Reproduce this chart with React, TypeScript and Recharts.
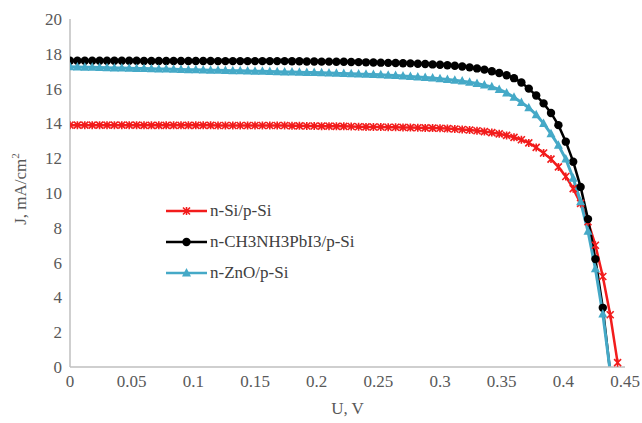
import { LineChart, Line, XAxis, YAxis, Legend } from 'recharts';

// voltage grid used by all three curves (V)
const uGrid = [
    0, 0.006, 0.012, 0.018, 0.024, 0.03, 0.036, 0.042, 0.048, 0.054,
    0.06, 0.066, 0.072, 0.078, 0.084, 0.09, 0.096, 0.102, 0.108, 0.114,
    0.12, 0.126, 0.132, 0.138, 0.144, 0.15, 0.156, 0.162, 0.168, 0.174,
    0.18, 0.186, 0.192, 0.198, 0.204, 0.21, 0.216, 0.222, 0.228, 0.234,
    0.24, 0.246, 0.252, 0.258, 0.264, 0.27, 0.276, 0.282, 0.288, 0.294,
    0.3, 0.306, 0.312, 0.318, 0.324, 0.33, 0.336, 0.342, 0.348, 0.354,
    0.36, 0.366, 0.372, 0.378, 0.384, 0.39, 0.396, 0.402, 0.408, 0.414,
    0.42, 0.426, 0.432,
];

const siTailU = [0.438, 0.444];
const pbTailU = [0.438];
const znTailU = [0.438];

// n-Si/p-Si, mA/cm2
const siJ = [
    13.9, 13.9, 13.9, 13.9, 13.9, 13.9, 13.9, 13.9, 13.9, 13.9,
    13.89, 13.89, 13.89, 13.89, 13.89, 13.89, 13.89, 13.89, 13.89, 13.89,
    13.88, 13.88, 13.88, 13.88, 13.88, 13.88, 13.88, 13.88, 13.88, 13.88,
    13.86, 13.86, 13.85, 13.85, 13.84, 13.84, 13.83, 13.83, 13.82, 13.81,
    13.8, 13.79, 13.79, 13.78, 13.78, 13.77, 13.76, 13.75, 13.74, 13.73,
    13.72, 13.7, 13.68, 13.65, 13.62, 13.58, 13.53, 13.47, 13.4, 13.31,
    13.2, 13.06, 12.88, 12.62, 12.3, 11.95, 11.5, 10.95, 10.25, 9.4,
    8.35, 7.0, 5.2, 3.0, 0.25,
];

// n-CH3NH3PbI3/p-Si
const pbJ = [
    17.6, 17.6, 17.6, 17.6, 17.6, 17.6, 17.6, 17.6, 17.6, 17.6,
    17.59, 17.59, 17.59, 17.59, 17.59, 17.59, 17.59, 17.59, 17.59, 17.59,
    17.58, 17.58, 17.58, 17.58, 17.58, 17.58, 17.58, 17.58, 17.58, 17.58,
    17.57, 17.57, 17.56, 17.56, 17.55, 17.55, 17.54, 17.54, 17.53, 17.52,
    17.51, 17.5, 17.49, 17.48, 17.47, 17.46, 17.45, 17.43, 17.41, 17.39,
    17.37, 17.34, 17.31, 17.27, 17.22, 17.16, 17.09, 17.0, 16.9, 16.77,
    16.6, 16.35, 16.0, 15.6, 15.15, 14.6, 13.9, 12.95, 11.8, 10.35,
    8.5, 6.2, 3.4, -0.3,
];

// n-ZnO/p-Si
const znJ = [
    17.25, 17.24, 17.23, 17.22, 17.21, 17.2, 17.19, 17.18, 17.17, 17.16,
    17.15, 17.14, 17.13, 17.12, 17.11, 17.1, 17.09, 17.08, 17.07, 17.06,
    17.05, 17.04, 17.03, 17.02, 17.01, 17.0, 16.99, 16.98, 16.97, 16.96,
    16.95, 16.94, 16.93, 16.92, 16.91, 16.9, 16.88, 16.87, 16.86, 16.84,
    16.83, 16.81, 16.79, 16.77, 16.75, 16.73, 16.7, 16.67, 16.64, 16.61,
    16.57, 16.53, 16.48, 16.43, 16.37, 16.3, 16.2, 16.1, 15.95, 15.75,
    15.5, 15.2, 14.9, 14.5, 14.0, 13.4, 12.75, 11.95, 10.85, 9.5,
    7.8, 5.65, 3.05, -0.25,
];

const xTicks = [0, 0.05, 0.1, 0.15, 0.2, 0.25, 0.3, 0.35, 0.4, 0.45];
const yTicks = [0, 2, 4, 6, 8, 10, 12, 14, 16, 18, 20];

const seriesNames = ['n-Si/p-Si', 'n-CH3NH3PbI3/p-Si', 'n-ZnO/p-Si'];

const RED = '#F21C1C';
const BLACK = '#000000';
const BLUE = '#45A9C7';
const FONT = "'Liberation Serif', 'Times New Roman', 'DejaVu Serif', serif";
const TEXT = '#595959';

const toRows = (u: number[], j: number[]) => u.map((v, i) => ({ u: v, j: j[i] }));

const siData = toRows([...uGrid, ...siTailU], siJ);
const pbData = toRows([...uGrid, ...pbTailU], pbJ);
const znData = toRows([...uGrid, ...znTailU], znJ);

const Marker = ({ kind, cx, cy, color }: { kind: number; cx: number; cy: number; color: string }) => {
    if (kind === 0) {
        return (
            <path
                d={`M${cx - 3.5},${cy - 3.5}L${cx + 3.5},${cy + 3.5}M${cx - 3.5},${cy + 3.5}L${cx + 3.5},${cy - 3.5}M${cx},${cy - 4}L${cx},${cy + 4}`}
                stroke={color}
                strokeWidth={1.6}
                fill="none"
            />
        );
    }
    if (kind === 1) {
        return <circle cx={cx} cy={cy} r={4.2} fill={color} />;
    }
    return <path d={`M${cx},${cy - 5}L${cx + 4.5},${cy + 3.5}L${cx - 4.5},${cy + 3.5}Z`} fill={color} />;
};

const dotFor = (kind: number, color: string) => (props: any) => {
    const { cx, cy, index, value } = props;
    const v = Array.isArray(value) ? value[1] : value;
    if (cx == null || cy == null || v < 0) return <g key={`e-${kind}-${index}`} />;
    return (
        <g key={`d-${kind}-${index}`}>
            <Marker kind={kind} cx={cx} cy={cy} color={color} />
        </g>
    );
};

const LegendBox = (props: any) => {
    // keep the series order (recharts sorts legend items by name)
    const items = [...(props.payload || [])].sort(
        (a: any, b: any) => seriesNames.indexOf(a.value) - seriesNames.indexOf(b.value)
    );
    return (
        <div style={{ fontFamily: FONT, fontSize: 17, color: '#404040', lineHeight: 1 }}>
            {items.map((it: any) => {
                const kind = seriesNames.indexOf(it.value);
                return (
                    <div key={it.value} style={{ display: 'flex', alignItems: 'center', height: 31 }}>
                        <svg width={42} height={14} style={{ marginRight: 2 }}>
                            <line x1={0} y1={7} x2={41} y2={7} stroke={it.color} strokeWidth={2.5} />
                            <Marker kind={kind} cx={20.5} cy={7} color={it.color} />
                        </svg>
                        <span>{it.value}</span>
                    </div>
                );
            })}
        </div>
    );
};

const YTitle = (props: any) => {
    const vb = props.viewBox || { x: 0, y: 0, width: 0, height: 0 };
    const cy = vb.y + vb.height / 2 - 4;
    return (
        <text
            x={26}
            y={cy}
            transform={`rotate(-90, 26, ${cy})`}
            textAnchor="middle"
            fontFamily={FONT}
            fontSize={17}
            fill={TEXT}
        >
            J, mA/cm
            <tspan fontSize={11} dy={-7}>2</tspan>
        </text>
    );
};

const IVChart = () => {
    return (
        <div style={{ position: 'absolute', left: 0, top: 0, background: '#fff', fontFamily: FONT }}>
            <LineChart width={642} height={423} margin={{ top: 19, right: 17, bottom: 0, left: 0 }}>
                <XAxis
                    dataKey="u"
                    type="number"
                    domain={[0, 0.45]}
                    ticks={xTicks}
                    allowDataOverflow
                    tickLine={false}
                    axisLine={{ stroke: '#BFBFBF', strokeWidth: 1.5 }}
                    tick={{ fontSize: 17, fontFamily: FONT, fill: TEXT }}
                    height={56}
                    label={{
                        value: 'U, V',
                        position: 'insideBottom',
                        offset: 9,
                        fontSize: 17,
                        fontFamily: FONT,
                        fill: TEXT,
                    }}
                />
                <YAxis
                    type="number"
                    domain={[0, 20]}
                    ticks={yTicks}
                    allowDataOverflow
                    width={70}
                    tickLine={false}
                    axisLine={{ stroke: '#BFBFBF', strokeWidth: 1.5 }}
                    tick={{ fontSize: 17, fontFamily: FONT, fill: TEXT }}
                    label={YTitle}
                />
                <Legend
                    layout="vertical"
                    align="center"
                    verticalAlign="middle"
                    content={LegendBox}
                    wrapperStyle={{ left: 166, top: 195, width: 'auto' }}
                />

                <Line
                    data={siData}
                    dataKey="j"
                    name={seriesNames[0]}
                    type="linear"
                    stroke={RED}
                    strokeWidth={2.5}
                    dot={dotFor(0, RED)}
                    activeDot={false}
                    isAnimationActive={false}
                />
                <Line
                    data={pbData}
                    dataKey="j"
                    name={seriesNames[1]}
                    type="linear"
                    stroke={BLACK}
                    strokeWidth={2.5}
                    dot={dotFor(1, BLACK)}
                    activeDot={false}
                    isAnimationActive={false}
                />
                <Line
                    data={znData}
                    dataKey="j"
                    name={seriesNames[2]}
                    type="linear"
                    stroke={BLUE}
                    strokeWidth={3}
                    dot={dotFor(2, BLUE)}
                    activeDot={false}
                    isAnimationActive={false}
                />
            </LineChart>
        </div>
    );
};

export default function App() {
    return <IVChart />;
}
